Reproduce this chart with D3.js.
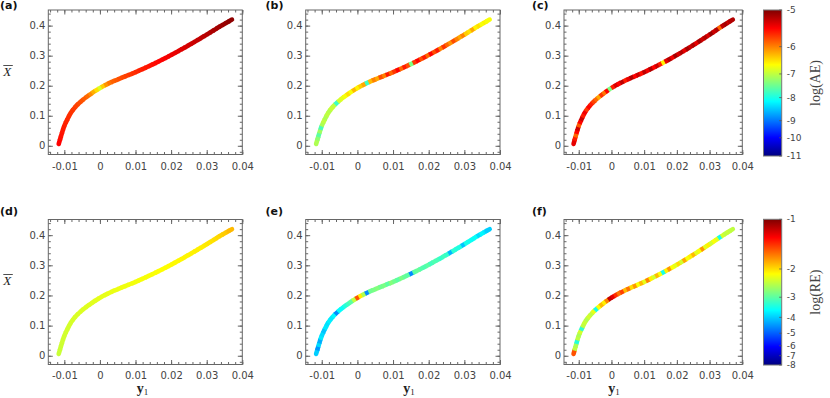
<!DOCTYPE html>
<html>
<head>
<meta charset="utf-8">
<script src="https://cdn.jsdelivr.net/npm/d3@7"></script>
<style>
  body { margin: 0; background: #fff; }
  svg text { font-family: "DejaVu Sans", sans-serif; }
</style>
</head>
<body>
<svg id="chart" width="830" height="398"></svg>
<script>
// curve shared by all six panels (y1, X bar)
const y1 = [-0.01158, -0.0112, -0.01065, -0.0100, -0.00915, -0.0081, -0.0067, -0.0051, -0.00325,
  -0.0002, 0.0038, 0.0094, 0.0150, 0.0200, 0.0253, 0.0300, 0.0337, 0.0371];
const xbar = [0.006, 0.021, 0.043, 0.066, 0.088, 0.111, 0.132, 0.150, 0.167,
  0.191, 0.215, 0.242, 0.272, 0.302, 0.337, 0.370, 0.397, 0.420];

const xTicks = [-0.01, 0, 0.01, 0.02, 0.03, 0.04];
const yTicks = [0, 0.1, 0.2, 0.3, 0.4];
const aeTicks = [-5, -6, -7, -8, -9, -10, -11];
const reTicks = [-1, -2, -3, -4, -5, -6, -7, -8];

// log error, start -> end
const aeA = [-5.5, -5.55, -5.56, -5.58, -5.6, -5.62, -5.64, -5.66, -5.68, -5.7, -5.72, -5.75, -5.78, -5.82, -5.86,
  -5.92, -6.05, -6.25, -6.5, -6.85, -6.4, -6.1, -5.95, -5.88, -5.84, -5.8, -5.77, -5.74, -5.71, -5.68, -5.65,
  -5.62, -5.6, -5.58, -5.56, -5.54, -5.52, -5.5, -5.48, -5.46, -5.44, -5.42, -5.4, -5.38, -5.36, -5.34, -5.32,
  -5.3, -5.28, -5.26, -5.24, -5.22, -5.2, -5.18, -5.16, -5.14, -5.12, -5.1, -5.08, -5.06];
const aeB = [-7.1, -7.3, -7.6, -7.2, -7.7, -7.1, -7.0, -7.1, -7.0, -7.05, -6.95, -7.0, -7.8, -6.9, -6.8,
  -6.7, -6.5, -6.7, -6.3, -6.6, -6.4, -6.2, -7.8, -6.3, -6.0, -6.2, -5.8, -6.0, -5.6, -5.9, -5.7,
  -5.5, -5.9, -5.6, -5.8, -7.4, -5.7, -5.5, -5.8, -5.6, -5.9, -5.5, -5.8, -5.6, -6.0, -5.7, -5.9,
  -6.1, -5.8, -6.0, -6.2, -6.0, -6.4, -6.5, -6.2, -6.6, -6.5, -6.7, -6.6, -6.7];
const aeC = [-5.4, -5.6, -5.9, -5.5, -5.3, -5.85, -5.5, -5.3, -5.6, -5.45, -5.7, -5.5, -5.6, -5.75, -5.9,
  -6.2, -5.7, -5.95, -5.5, -7.4, -5.6, -5.35, -5.5, -5.25, -5.6, -5.4, -5.2, -5.5, -5.3, -5.55, -5.25,
  -5.45, -5.2, -5.5, -5.3, -5.6, -6.6, -5.4, -5.2, -5.45, -5.15, -5.35, -5.2, -5.4, -5.15, -5.3, -5.2,
  -5.4, -5.15, -5.3, -5.2, -5.35, -5.1, -5.3, -5.2, -5.9, -5.25, -5.15, -5.3, -5.2];
const reD = [-2.45, -2.44, -2.43, -2.42, -2.41, -2.41, -2.4, -2.4, -2.39, -2.38, -2.37, -2.36, -2.36, -2.35, -2.34,
  -2.33, -2.33, -2.32, -2.31, -2.3, -2.3, -2.29, -2.28, -2.28, -2.27, -2.26, -2.25, -2.25, -2.24, -2.23, -2.23,
  -2.22, -2.21, -2.21, -2.2, -2.2, -2.19, -2.18, -2.18, -2.17, -2.16, -2.15, -2.15, -2.14, -2.13, -2.13, -2.12,
  -2.11, -2.1, -2.1, -2.09, -2.07, -2.05, -2.03, -2.01, -1.99, -1.97, -1.95, -1.93, -1.9];
const reE = [-4.0, -4.5, -3.9, -4.3, -3.8, -3.9, -4.1, -3.8, -3.85, -3.75, -3.8, -3.7, -4.6, -3.65, -3.6,
  -3.4, -3.2, -3.0, -2.5, -1.6, -2.1, -2.6, -4.6, -2.9, -2.85, -2.8, -2.9, -2.85, -3.0, -2.8, -2.9,
  -3.0, -2.85, -2.95, -3.0, -4.6, -3.0, -2.95, -3.05, -3.1, -3.0, -3.2, -3.1, -3.15, -3.3, -3.2, -3.3,
  -4.2, -3.35, -3.4, -3.45, -4.1, -3.5, -3.55, -3.6, -3.6, -3.9, -3.7, -3.8, -4.0];
const reF = [-1.6, -2.5, -2.6, -3.4, -2.5, -2.6, -2.4, -3.3, -2.5, -2.45, -2.55, -2.4, -2.5, -2.3, -3.5,
  -2.2, -1.9, -2.1, -1.75, -1.2, -1.3, -1.5, -1.7, -1.55, -1.9, -1.7, -2.0, -1.8, -2.2, -1.9, -2.3,
  -1.75, -2.1, -2.4, -1.9, -2.2, -3.5, -2.1, -1.8, -2.2, -2.3, -2.0, -2.4, -1.85, -2.2, -2.1, -1.9,
  -2.3, -2.2, -1.8, -2.3, -2.1, -2.4, -2.2, -2.3, -3.5, -2.4, -2.5, -2.45, -2.5];

// colour bars are non-uniform: where each tick sits along the bar (0 bottom, 1 top)
const aeScale = d3.scaleLinear().domain([-11, -10, -9, -8, -7, -6, -5])
  .range([0, 0.125, 0.242, 0.40, 0.562, 0.749, 1]).clamp(true);
const reScale = d3.scaleLinear().domain([-8, -7, -6, -5, -4, -3, -2, -1])
  .range([0, 0.064, 0.132, 0.218, 0.327, 0.465, 0.659, 1]).clamp(true);
const jetStops = [0, 0.125, 0.375, 0.625, 0.875, 1];
const jet = d3.scaleLinear().domain(jetStops)
  .range(['#00007f', '#0000ff', '#00ffff', '#ffff00', '#ff0000', '#7f0000']);

const cols = [{ l: 48.3, r: 242.3 }, { l: 305.7, r: 500 }, { l: 564, r: 742.3 }];
const rows = [{ t: 10, b: 154.5 }, { t: 219.5, b: 364.5 }];
const xDomain = [-0.0145, 0.04];
const yDomain = [-0.029, 0.452];
const frameColor = '#666';
const tickText = '#444';

const panels = [
  { name: '(a)', vals: aeA, sc: aeScale, col: 0, row: 0 },
  { name: '(b)', vals: aeB, sc: aeScale, col: 1, row: 0 },
  { name: '(c)', vals: aeC, sc: aeScale, col: 2, row: 0 },
  { name: '(d)', vals: reD, sc: reScale, col: 0, row: 1 },
  { name: '(e)', vals: reE, sc: reScale, col: 1, row: 1 },
  { name: '(f)', vals: reF, sc: reScale, col: 2, row: 1 },
];
const nameX = [0, 265.5, 532];
const nameY = [8.6, 214.5];
const y1LabelX = [136.7, 403.3, 608.3];

const svg = d3.select('#chart');

function styleAxis(g) {
  g.select('.domain').remove();
  g.selectAll('line').attr('stroke', frameColor);
  g.selectAll('text').attr('fill', tickText).style('font-size', '10px');
}

panels.forEach((p) => {
  const c = cols[p.col], rw = rows[p.row];
  const x = d3.scaleLinear().domain(xDomain).range([c.l, c.r]);
  const y = d3.scaleLinear().domain(yDomain).range([rw.b, rw.t]);
  const g = svg.append('g');

  const xMinor = d3.range(-0.014, 0.0401, 0.002).filter((v) => v >= xDomain[0]);
  const yMinor = d3.range(-0.02, 0.4401, 0.02);

  // minor ticks, all four sides
  [[d3.axisBottom(x), rw.b], [d3.axisTop(x), rw.t]].forEach(([ax, pos]) => {
    g.append('g').attr('transform', `translate(0,${pos})`)
      .call(ax.tickValues(xMinor).tickSizeInner(-2.5).tickSizeOuter(0).tickFormat(''))
      .call(styleAxis);
  });
  [[d3.axisLeft(y), c.l], [d3.axisRight(y), c.r]].forEach(([ax, pos]) => {
    g.append('g').attr('transform', `translate(${pos},0)`)
      .call(ax.tickValues(yMinor).tickSizeInner(-2.5).tickSizeOuter(0).tickFormat(''))
      .call(styleAxis);
  });

  // major ticks + labels
  g.append('g').attr('transform', `translate(0,${rw.b})`)
    .call(d3.axisBottom(x).tickValues(xTicks).tickSizeInner(-4.5).tickSizeOuter(0)
      .tickPadding(p.row === 0 ? 8 : 7.5).tickFormat((d) => (d === 0 ? '0' : d.toFixed(2))))
    .call(styleAxis);
  g.append('g').attr('transform', `translate(0,${rw.t})`)
    .call(d3.axisTop(x).tickValues(xTicks).tickSizeInner(-4.5).tickSizeOuter(0).tickFormat(''))
    .call(styleAxis);
  g.append('g').attr('transform', `translate(${c.l},0)`)
    .call(d3.axisLeft(y).tickValues(yTicks).tickSizeInner(-4.5).tickSizeOuter(0)
      .tickPadding(3).tickFormat((d) => (d === 0 ? '0' : d.toFixed(1))))
    .call(styleAxis);
  g.append('g').attr('transform', `translate(${c.r},0)`)
    .call(d3.axisRight(y).tickValues(yTicks).tickSizeInner(-4.5).tickSizeOuter(0).tickFormat(''))
    .call(styleAxis);

  g.append('rect')
    .attr('x', c.l).attr('y', rw.t)
    .attr('width', c.r - c.l).attr('height', rw.b - rw.t)
    .attr('fill', 'none').attr('stroke', frameColor).attr('stroke-width', 1);

  // coloured curve: one dash of the same path for each value
  const line = d3.line()
    .x((d, i) => x(y1[i]))
    .y((d) => y(d))
    .curve(d3.curveCatmullRom.alpha(0.5));
  const dStr = line(xbar);
  const probe = g.append('path').attr('d', dStr).attr('fill', 'none');
  const total = probe.node().getTotalLength();
  probe.remove();
  const n = p.vals.length;
  const seg = total / n;
  p.vals.forEach((v, i) => {
    g.append('path')
      .attr('d', dStr)
      .attr('fill', 'none')
      .attr('stroke', jet(p.sc(v)))
      .attr('stroke-width', 4.6)
      .attr('stroke-linecap', i === 0 || i === n - 1 ? 'round' : 'butt')
      .attr('stroke-dasharray', `${seg + 0.8} ${total * 2}`)
      .attr('stroke-dashoffset', -i * seg);
  });

  svg.append('text')
    .attr('x', nameX[p.col]).attr('y', nameY[p.row])
    .style('font-size', '11px').style('font-weight', 'bold')
    .attr('fill', '#111')
    .text(p.name);

  if (p.col === 0) {
    const base = p.row === 0 ? 76 : 285;
    const t = svg.append('text')
      .attr('x', 3.3).attr('y', base)
      .style('font-family', '"Liberation Serif", serif')
      .style('font-style', 'italic').style('font-size', '13px')
      .attr('fill', '#222')
      .text('X');
    const bb = t.node().getBBox();
    svg.append('line')
      .attr('x1', bb.x + 1).attr('x2', bb.x + bb.width + 0.5)
      .attr('y1', base - 10.5).attr('y2', base - 10.5)
      .attr('stroke', '#222').attr('stroke-width', 0.8);
  }

  if (p.row === 1) {
    const t = svg.append('text')
      .attr('x', y1LabelX[p.col]).attr('y', 393)
      .style('font-family', '"Liberation Serif", serif')
      .attr('fill', '#222');
    t.append('tspan').style('font-weight', 'bold').style('font-size', '14px').text('y');
    t.append('tspan').attr('dy', 2).style('font-size', '9px').text('1');
  }
});

// colour bars
const defs = svg.append('defs');
const grad = defs.append('linearGradient').attr('id', 'jet')
  .attr('x1', 0).attr('y1', 1).attr('x2', 0).attr('y2', 0);
jetStops.forEach((s) => grad.append('stop').attr('offset', s).attr('stop-color', jet(s)));

const bars = [
  { ticks: aeTicks, sc: aeScale, t: 10, b: 156, label: 'log(AE)' },
  { ticks: reTicks, sc: reScale, t: 219.3, b: 365, label: 'log(RE)' },
];
const barL = 763.5, barR = 781.7;

bars.forEach((bar) => {
  const pos = d3.scaleLinear().domain([0, 1]).range([bar.b, bar.t]);
  const g = svg.append('g');
  g.append('rect')
    .attr('x', barL).attr('y', bar.t)
    .attr('width', barR - barL).attr('height', bar.b - bar.t)
    .attr('fill', 'url(#jet)')
    .attr('stroke', '#777').attr('stroke-width', 1);
  bar.ticks.forEach((v) => {
    const yy = pos(bar.sc(v));
    g.append('line')
      .attr('x1', barR - 2.5).attr('x2', barR)
      .attr('y1', yy).attr('y2', yy)
      .attr('stroke', '#555').attr('stroke-width', 0.8);
    g.append('text')
      .attr('x', barR + 5).attr('y', yy).attr('dy', '0.35em')
      .attr('fill', tickText).style('font-size', '9px')
      .text(v);
  });
  g.append('text')
    .attr('transform', `translate(820,${(bar.t + bar.b) / 2}) rotate(-90)`)
    .attr('text-anchor', 'middle')
    .style('font-family', '"Liberation Serif", serif').style('font-size', '14px')
    .attr('fill', '#444')
    .text(bar.label);
});
</script>
</body>
</html>
